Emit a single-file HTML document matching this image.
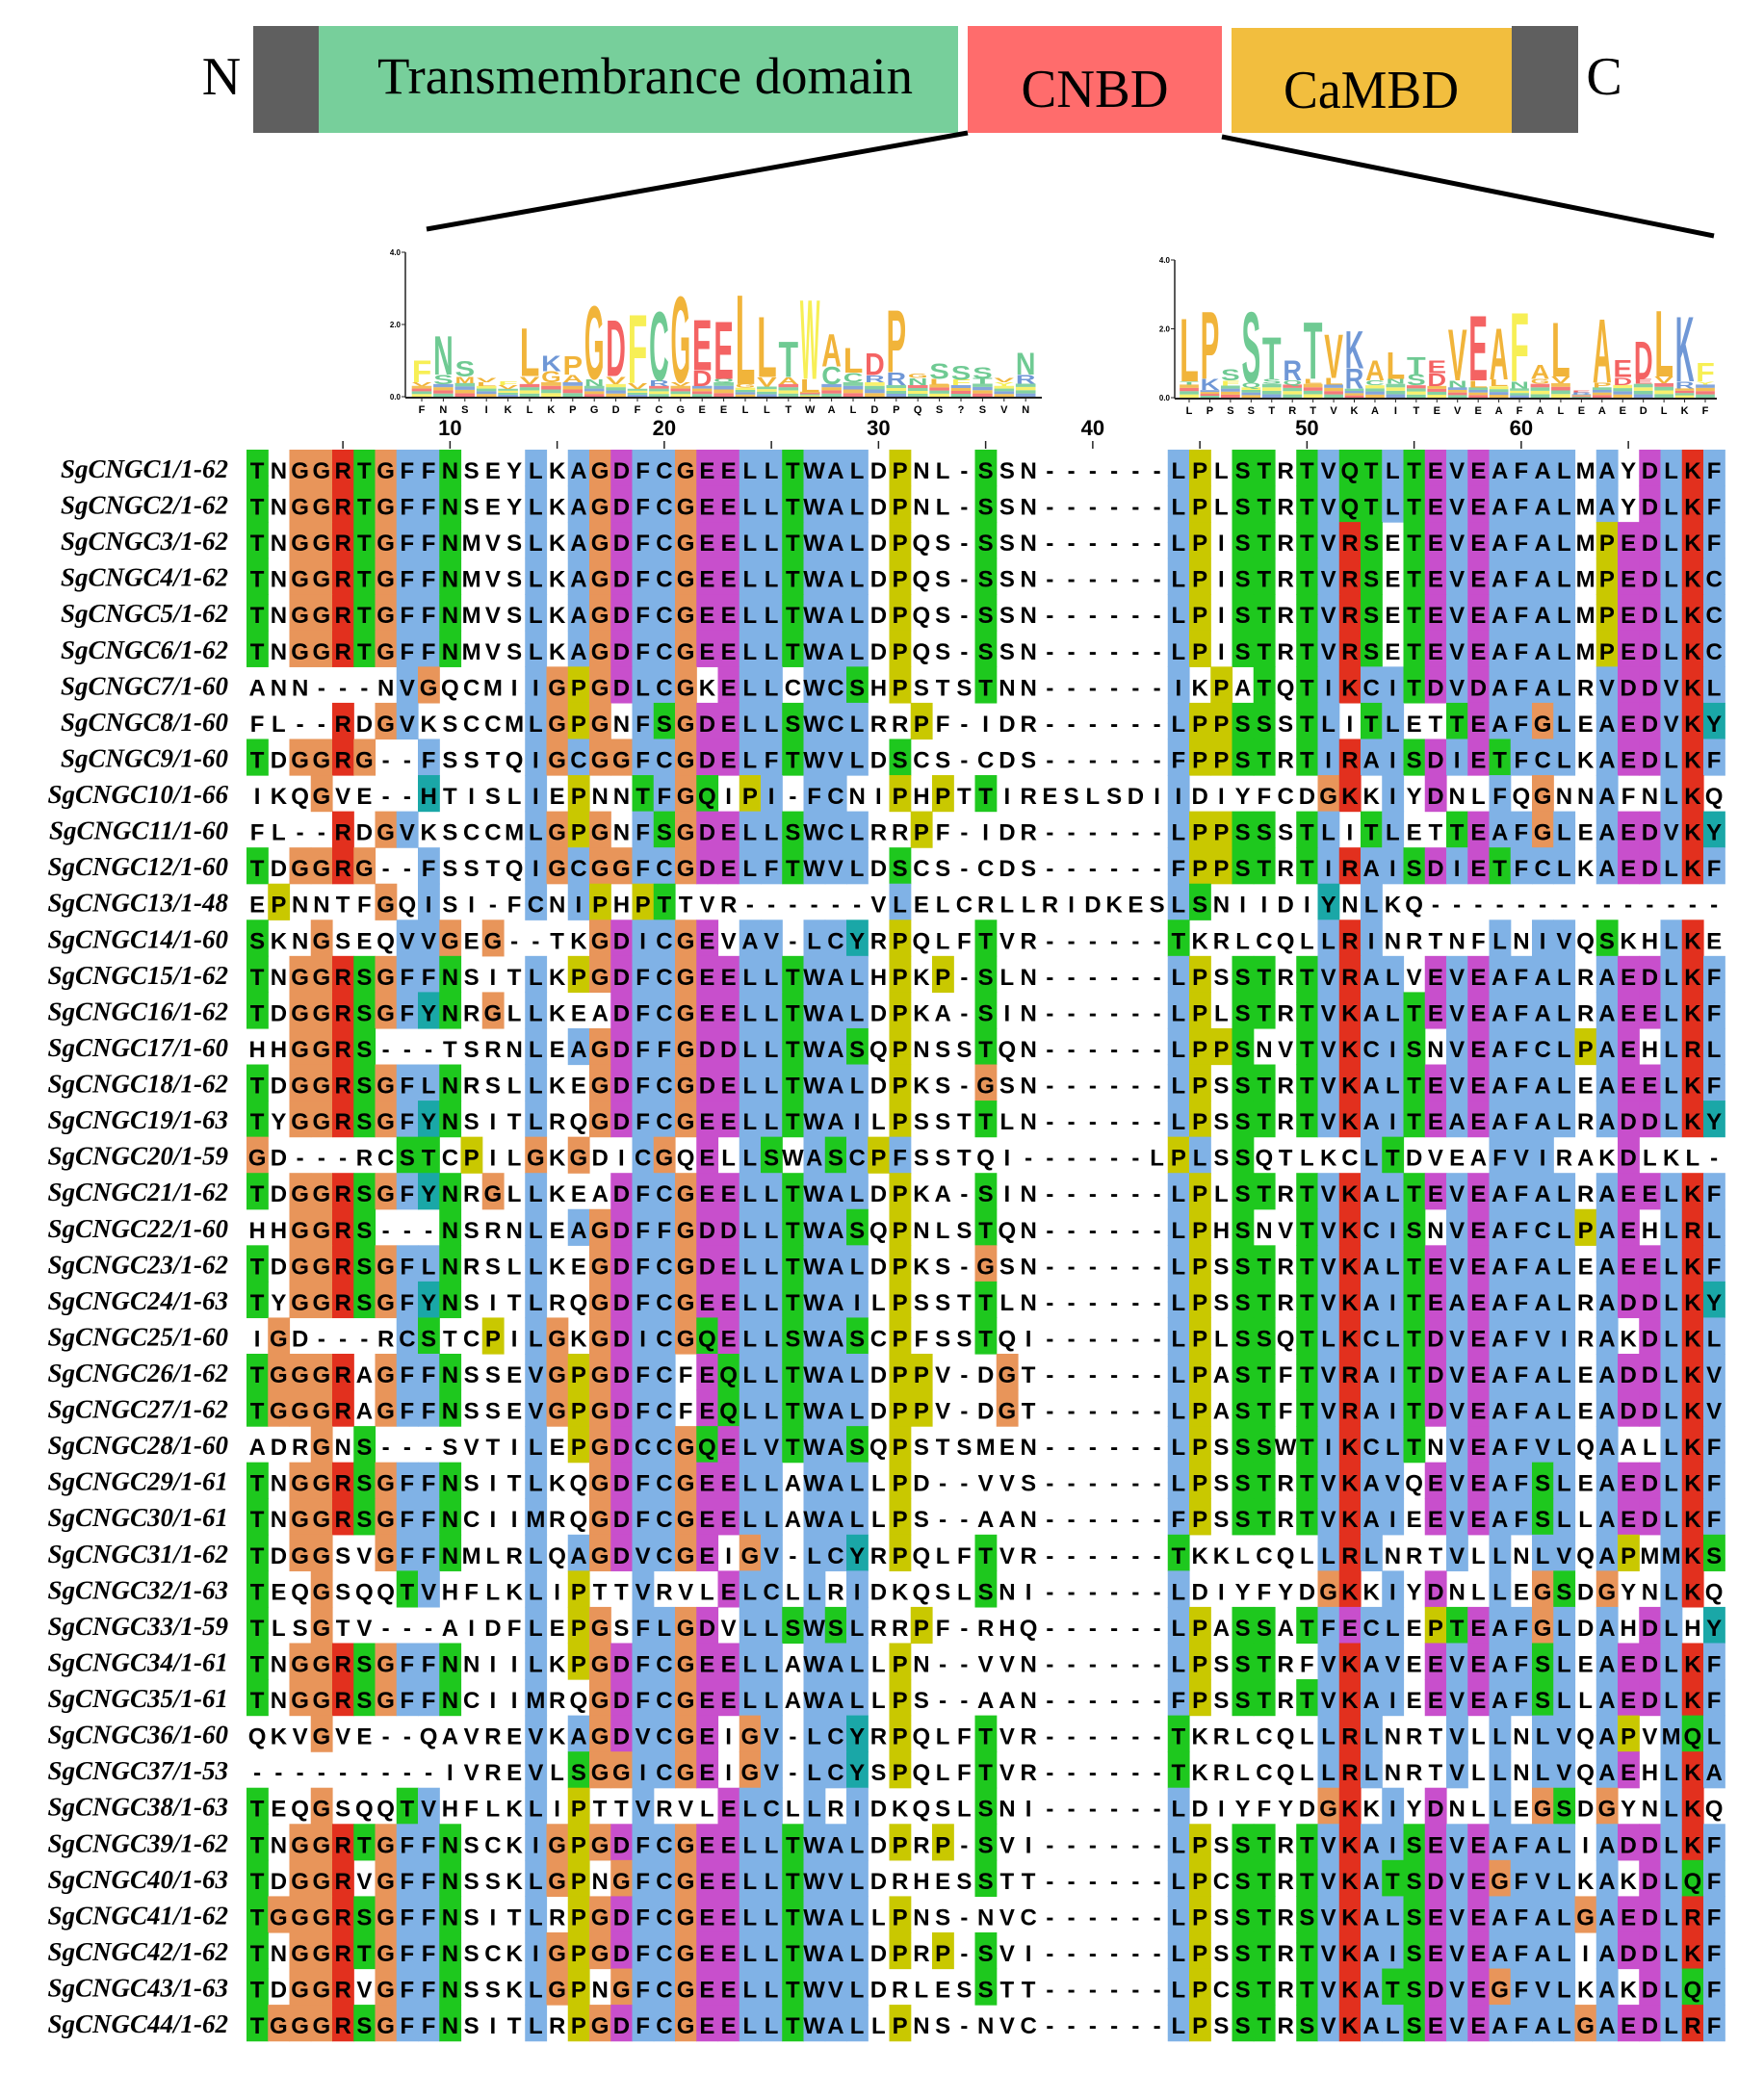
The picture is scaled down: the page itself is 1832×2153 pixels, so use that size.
<!DOCTYPE html>
<html><head><meta charset="utf-8"><style>
html,body{margin:0;padding:0;background:#fff}
svg{display:block}
</style></head><body>
<svg id="fig" xmlns="http://www.w3.org/2000/svg" width="1832" height="2153" viewBox="0 0 1832 2153">
<rect width="1832" height="2153" fill="#fff"/>
<g>
<text x="230" y="98" font-family="Liberation Serif, serif" font-size="56" text-anchor="middle">N</text>
<rect x="263" y="27" width="68" height="111" fill="#5f5f5f"/>
<rect x="331" y="27" width="664" height="111" fill="#77cf9b"/>
<text x="670" y="97" font-family="Liberation Serif, serif" font-size="54" text-anchor="middle" textLength="556" lengthAdjust="spacingAndGlyphs">Transmembrance domain</text>
<rect x="1005" y="27" width="264" height="111" fill="#ff6c6c"/>
<text x="1137" y="111" font-family="Liberation Serif, serif" font-size="56" text-anchor="middle" textLength="153" lengthAdjust="spacingAndGlyphs">CNBD</text>
<rect x="1279" y="29" width="291" height="109" fill="#f2be3e"/>
<text x="1424" y="112" font-family="Liberation Serif, serif" font-size="56" text-anchor="middle" textLength="182" lengthAdjust="spacingAndGlyphs">CaMBD</text>
<rect x="1570" y="27" width="69" height="111" fill="#5f5f5f"/>
<text x="1666" y="98" font-family="Liberation Serif, serif" font-size="56" text-anchor="middle">C</text>
<line x1="1005" y1="138" x2="443" y2="238" stroke="#000" stroke-width="5"/>
<line x1="1269" y1="142" x2="1780" y2="245" stroke="#000" stroke-width="5"/>
</g>
<g id="logos"></g>
<g id="aln"></g>
</svg>
<script>
// ---------- logo data ----------
const logo1Labels=['F','N','S','I','K','L','K','P','G','D','F','C','G','E','E','L','L','T','W','A','L','D','P','Q','S','?','S','V','N'];
const logo1Main=['F','N','S','V','F','L','K','P','G','D','F','C','G','E','E','L','L','T','W','A','L','D','P','G','S','S','S','V','N'];
const logo1MainBits=[.62,1.11,.44,.12,.1,1.38,.44,.53,2.09,1.6,1.96,1.96,2.46,1.45,1.64,2.56,1.72,1.02,2.27,.93,.71,.62,1.78,.12,.44,.4,.31,.12,.62];
const logo1Sec=['V','S','M','L','V','V','G','A','N','V','V','R','V','D','Q','G','V','A','L','C','C','R','R','N','L','F','T','Y','R'];
const logo1SecBits=[.1,.27,.18,.1,.1,.22,.31,.22,.2,.22,.15,.15,.1,.44,.1,.1,.27,.2,.35,.49,.27,.2,.36,.2,.15,.15,.15,.1,.25];
const logo1Rest=[.3,.35,.38,.3,.22,.35,.4,.4,.3,.35,.22,.3,.3,.3,.4,.25,.28,.35,.14,.35,.4,.4,.32,.32,.34,.32,.36,.3,.36];

const logo2Labels=['L','P','S','S','T','R','T','V','K','A','I','T','E','V','E','A','F','A','L','E','A','E','D','L','K','F'];
const logo2Main=['L','P','S','S','T','R','T','V','K','A','L','T','E','V','E','A','F','A','L','E','A','E','D','L','K','F'];
const logo2MainBits=[1.88,2.02,.33,2.12,1.26,.6,1.7,1.3,1.12,.6,.8,.51,.37,1.53,1.95,1.53,2.05,.42,1.63,.05,1.9,.51,1.12,1.98,1.95,.56];
const logo2Sec=['T','K','F','Q','S','Q','L','L','R','C','N','S','D','N','L','L','N','G','V','R','P','D','E','V','R','Y'];
const logo2SecBits=[.1,.33,.15,.15,.15,.12,.15,.2,.6,.15,.15,.33,.37,.2,.2,.2,.2,.15,.2,.05,.15,.23,.15,.2,.2,.1];
const logo2Rest=[.38,.22,.35,.3,.4,.38,.4,.38,.26,.36,.4,.36,.34,.3,.3,.33,.27,.4,.42,.1,.3,.37,.4,.42,.27,.38];

const NS='http://www.w3.org/2000/svg';
function mk(tag,attrs,parent){const e=document.createElementNS(NS,tag);for(const k in attrs)e.setAttribute(k,attrs[k]);if(parent)parent.appendChild(e);return e;}
function logoColor(c){
  if('AGILMPV'.includes(c))return '#f1b43a';
  if('FWY'.includes(c))return '#f7ef55';
  if('CNQST'.includes(c))return '#6fca93';
  if('KRH'.includes(c))return '#6f97d6';
  if('DE'.includes(c))return '#f46363';
  return '#aaa';
}
const stripeCols=['#f7ef55','#6fca93','#f46363','#f1b43a','#6f97d6','#6fca93'];
function drawLetter(g,ch,xl,w,yb,h){
  if(h<=0.5)return;
  const t=mk('text',{x:0,y:0,'font-family':'Liberation Sans, sans-serif','font-weight':'bold','font-size':100,textLength:100,lengthAdjust:'spacingAndGlyphs',fill:logoColor(ch),
    transform:`translate(${xl},${yb}) scale(${w/100},${h/72})`},g);
  t.textContent=ch;
}
function drawLogo(name,ax,y0,y4,x0,step,labels,main,mainBits,sec,secBits,rest,xEnd){
  const g=mk('g',{},document.getElementById('logos'));
  
  
  const pb=(y0-y4)/4;
  const yv=b=>y0-b*pb;
  const ya=mk('line',{x1:ax,y1:y4,x2:ax,y2:y0+1,stroke:'#222','stroke-width':1.5},g);
  
  const xa=mk('line',{x1:ax,y1:y0+1,x2:xEnd,y2:y0+1,stroke:'#222','stroke-width':2},g);
  
  [0,2,4].forEach(b=>{
    mk('line',{x1:ax-4,y1:yv(b),x2:ax,y2:yv(b),stroke:'#222','stroke-width':1},g);
    const t=mk('text',{x:ax-5,y:yv(b)+3,'font-family':'Liberation Sans, sans-serif','font-size':8,'font-weight':'bold','text-anchor':'end'},g);
    t.textContent=b.toFixed(1);
    
  });
  const w=step*0.92;
  labels.forEach((lab,i)=>{
    const cx=x0+i*step, xl=cx-w/2;
    let y=y0;
    const r=rest[i]*pb; const n=4;
    for(let k=0;k<n;k++){
      const s=mk('rect',{x:xl,y:y-r*(k+1)/n,width:w,height:r/n,fill:stripeCols[(i+k)%stripeCols.length],opacity:0.85},g);
      
    }
    y-=r;
    const sh=secBits[i]*pb; drawLetter(g,sec[i],xl,w,y,sh); y-=sh;
    const mh=mainBits[i]*pb; drawLetter(g,main[i],xl,w,y,mh);
    mk('line',{x1:cx,y1:y0+1,x2:cx,y2:y0+5,stroke:'#222','stroke-width':1},g);
    const t=mk('text',{x:cx,y:y0+17,'font-family':'Liberation Sans, sans-serif','font-size':11,'font-weight':'bold','text-anchor':'middle'},g);
    t.textContent=lab;
    
  });
}
drawLogo('cnbd-logo-left',421,412,262,438,22.4,logo1Labels,logo1Main,logo1MainBits,logo1Sec,logo1SecBits,logo1Rest,1082);
drawLogo('cnbd-logo-right',1220,413,270,1235,21.44,logo2Labels,logo2Main,logo2MainBits,logo2Sec,logo2SecBits,logo2Rest,1783);

// ---------- alignment data ----------
const names=['SgCNGC1/1-62','SgCNGC2/1-62','SgCNGC3/1-62','SgCNGC4/1-62','SgCNGC5/1-62','SgCNGC6/1-62','SgCNGC7/1-60','SgCNGC8/1-60','SgCNGC9/1-60','SgCNGC10/1-66','SgCNGC11/1-60','SgCNGC12/1-60','SgCNGC13/1-48','SgCNGC14/1-60','SgCNGC15/1-62','SgCNGC16/1-62','SgCNGC17/1-60','SgCNGC18/1-62','SgCNGC19/1-63','SgCNGC20/1-59','SgCNGC21/1-62','SgCNGC22/1-60','SgCNGC23/1-62','SgCNGC24/1-63','SgCNGC25/1-60','SgCNGC26/1-62','SgCNGC27/1-62','SgCNGC28/1-60','SgCNGC29/1-61','SgCNGC30/1-61','SgCNGC31/1-62','SgCNGC32/1-63','SgCNGC33/1-59','SgCNGC34/1-61','SgCNGC35/1-61','SgCNGC36/1-60','SgCNGC37/1-53','SgCNGC38/1-63','SgCNGC39/1-62','SgCNGC40/1-63','SgCNGC41/1-62','SgCNGC42/1-62','SgCNGC43/1-63','SgCNGC44/1-62'];
const seqs=[
'TNGGRTGFFNSEYLKAGDFCGEELLTWALDPNL-SSN------LPLSTRTVQTLTEVEAFALMAYDLKF',
'TNGGRTGFFNSEYLKAGDFCGEELLTWALDPNL-SSN------LPLSTRTVQTLTEVEAFALMAYDLKF',
'TNGGRTGFFNMVSLKAGDFCGEELLTWALDPQS-SSN------LPISTRTVRSETEVEAFALMPEDLKF',
'TNGGRTGFFNMVSLKAGDFCGEELLTWALDPQS-SSN------LPISTRTVRSETEVEAFALMPEDLKC',
'TNGGRTGFFNMVSLKAGDFCGEELLTWALDPQS-SSN------LPISTRTVRSETEVEAFALMPEDLKC',
'TNGGRTGFFNMVSLKAGDFCGEELLTWALDPQS-SSN------LPISTRTVRSETEVEAFALMPEDLKC',
'ANN---NVGQCMIIGPGDLCGKELLCWCSHPSTSTNN------IKPATQTIKCITDVDAFALRVDDVKL',
'FL--RDGVKSCCMLGPGNFSGDELLSWCLRRPF-IDR------LPPSSSTLITLETTEAFGLEAEDVKY',
'TDGGRG--FSSTQIGCGGFCGDELFTWVLDSCS-CDS------FPPSTRTIRAISDIETFCLKAEDLKF',
'IKQGVE--HTISLIEPNNTFGQIPI-FCNIPHPTTIRESLSDIIDIYFCDGKKIYDNLFQGNNAFNLKQ',
'FL--RDGVKSCCMLGPGNFSGDELLSWCLRRPF-IDR------LPPSSSTLITLETTEAFGLEAEDVKY',
'TDGGRG--FSSTQIGCGGFCGDELFTWVLDSCS-CDS------FPPSTRTIRAISDIETFCLKAEDLKF',
'EPNNTFGQISI-FCNIPHPTTVR------VLELCRLLRIDKESLSNIIDIYNLKQ--------------',
'SKNGSEQVVGEG--TKGDICGEVAV-LCYRPQLFTVR------TKRLCQLLRINRTNFLNIVQSKHLKE',
'TNGGRSGFFNSITLKPGDFCGEELLTWALHPKP-SLN------LPSSTRTVRALVEVEAFALRAEDLKF',
'TDGGRSGFYNRGLLKEADFCGEELLTWALDPKA-SIN------LPLSTRTVKALTEVEAFALRAEELKF',
'HHGGRS---TSRNLEAGDFFGDDLLTWASQPNSSTQN------LPPSNVTVKCISNVEAFCLPAEHLRL',
'TDGGRSGFLNRSLLKEGDFCGDELLTWALDPKS-GSN------LPSSTRTVKALTEVEAFALEAEELKF',
'TYGGRSGFYNSITLRQGDFCGEELLTWAILPSSTTLN------LPSSTRTVKAITEAEAFALRADDLKY',
'GD---RCSTCPILGKGDICGQELLSWASCPFSSTQI------LPLSSQTLKCLTDVEAFVIRAKDLKL-',
'TDGGRSGFYNRGLLKEADFCGEELLTWALDPKA-SIN------LPLSTRTVKALTEVEAFALRAEELKF',
'HHGGRS---NSRNLEAGDFFGDDLLTWASQPNLSTQN------LPHSNVTVKCISNVEAFCLPAEHLRL',
'TDGGRSGFLNRSLLKEGDFCGDELLTWALDPKS-GSN------LPSSTRTVKALTEVEAFALEAEELKF',
'TYGGRSGFYNSITLRQGDFCGEELLTWAILPSSTTLN------LPSSTRTVKAITEAEAFALRADDLKY',
'IGD---RCSTCPILGKGDICGQELLSWASCPFSSTQI------LPLSSQTLKCLTDVEAFVIRAKDLKL',
'TGGGRAGFFNSSEVGPGDFCFEQLLTWALDPPV-DGT------LPASTFTVRAITDVEAFALEADDLKV',
'TGGGRAGFFNSSEVGPGDFCFEQLLTWALDPPV-DGT------LPASTFTVRAITDVEAFALEADDLKV',
'ADRGNS---SVTILEPGDCCGQELVTWASQPSTSMEN------LPSSSWTIKCLTNVEAFVLQAALLKF',
'TNGGRSGFFNSITLKQGDFCGEELLAWALLPD--VVS------LPSSTRTVKAVQEVEAFSLEAEDLKF',
'TNGGRSGFFNCIIMRQGDFCGEELLAWALLPS--AAN------FPSSTRTVKAIEEVEAFSLLAEDLKF',
'TDGGSVGFFNMLRLQAGDVCGEIGV-LCYRPQLFTVR------TKKLCQLLRLNRTVLLNLVQAPMMKS',
'TEQGSQQTVHFLKLIPTTVRVLELCLLRIDKQSLSNI------LDIYFYDGKKIYDNLLEGSDGYNLKQ',
'TLSGTV---AIDFLEPGSFLGDVLLSWSLRRPF-RHQ------LPASSATFECLEPTEAFGLDAHDLHY',
'TNGGRSGFFNNIILKPGDFCGEELLAWALLPN--VVN------LPSSTRFVKAVEEVEAFSLEAEDLKF',
'TNGGRSGFFNCIIMRQGDFCGEELLAWALLPS--AAN------FPSSTRTVKAIEEVEAFSLLAEDLKF',
'QKVGVE--QAVREVKAGDVCGEIGV-LCYRPQLFTVR------TKRLCQLLRLNRTVLLNLVQAPVMQL',
'---------IVREVLSGGICGEIGV-LCYSPQLFTVR------TKRLCQLLRLNRTVLLNLVQAEHLKA',
'TEQGSQQTVHFLKLIPTTVRVLELCLLRIDKQSLSNI------LDIYFYDGKKIYDNLLEGSDGYNLKQ',
'TNGGRTGFFNSCKIGPGDFCGEELLTWALDPRP-SVI------LPSSTRTVKAISEVEAFALIADDLKF',
'TDGGRVGFFNSSKLGPNGFCGEELLTWVLDRHESSTT------LPCSTRTVKATSDVEGFVLKAKDLQF',
'TGGGRSGFFNSITLRPGDFCGEELLTWALLPNS-NVC------LPSSTRSVKALSEVEAFALGAEDLRF',
'TNGGRTGFFNSCKIGPGDFCGEELLTWALDPRP-SVI------LPSSTRTVKAISEVEAFALIADDLKF',
'TDGGRVGFFNSSKLGPNGFCGEELLTWVLDRLESSTT------LPCSTRTVKATSDVEGFVLKAKDLQF',
'TGGGRSGFFNSITLRPGDFCGEELLTWALLPNS-NVC------LPSSTRSVKALSEVEAFALGAEDLRF'];
const tickPositions=[5,10,15,20,25,30,35,40,45,50,55,60,65];
const tickLabels=[10,20,30,40,50,60];

const NCOL=69, X0=256, CW=22.25, Y0=467, RH=37.56;
const S=seqs.map(s=>(s+'-'.repeat(NCOL)).slice(0,NCOL));
const N=S.length;
const colX=c=>X0+(c-1)*CW;
const rowY=r=>Y0+r*RH;
function pct(col,set){let n=0;for(const s of S)if(set.includes(s[col]))n++;return n/N*100;}
const C={blue:'#80b2e6',red:'#e2301e',green:'#1ec81e',pink:'#f08080',mag:'#c84fcc',orange:'#e8955a',yellow:'#c9c800',cyan:'#1aa7a7'};
function clustal(ch,j){
  const h=pct(j,'WLVIMAFCHP'),kr=pct(j,'KR'),qe=pct(j,'QE'),ed=pct(j,'ED'),st=pct(j,'ST');
  const p=x=>pct(j,x);
  switch(ch){
    case 'W':case 'L':case 'V':case 'I':case 'M':case 'F':case 'A': return h>60?C.blue:null;
    case 'C': if(p('C')>85)return C.pink; return h>60?C.blue:null;
    case 'K':case 'R': return (kr>60||p('K')>80||p('R')>85||p('Q')>85)?C.red:null;
    case 'E': return (kr>60||qe>50||ed>50||p('E')>85)?C.mag:null;
    case 'D': return (kr>60||ed>50||p('D')>85)?C.mag:null;
    case 'N': return (p('N')>50||p('D')>85)?C.green:null;
    case 'Q': return (kr>60||qe>50||p('Q')>85)?C.green:null;
    case 'S':case 'T': return (h>60||st>50||p('S')>80||p('T')>85)?C.green:null;
    case 'H':case 'Y': return (h>60||p('WYACPQFHILMV')>85)?C.cyan:null;
    case 'G': return C.orange;
    case 'P': return C.yellow;
  }
  return null;
}
const aln=document.getElementById('aln');
const ruler=mk('g',{},aln);


tickPositions.forEach(t=>{
  const x=colX(t)+CW/2;
  const l=mk('line',{x1:x,y1:458,x2:x,y2:466,stroke:'#222','stroke-width':1.5},ruler);
  
  
});
tickLabels.forEach(t=>{
  const x=colX(t)+CW/2;
  const tx=mk('text',{x:x,y:452,'font-family':'Liberation Sans, sans-serif','font-weight':'bold','font-size':22,'text-anchor':'middle'},ruler);
  tx.textContent=t;
  
  
});
const bg=mk('g',{},aln);


const tg=mk('g',{'font-family':'Liberation Sans, sans-serif','font-weight':'bold','font-size':24,'text-anchor':'middle'},aln);


S.forEach((s,r)=>{
  const y=rowY(r);
  const lab=mk('text',{x:237,y:y+29,'font-family':'Liberation Serif, serif','font-style':'italic','font-weight':'bold','font-size':27,'text-anchor':'end'},aln);
  lab.textContent=names[r];
  
  
  for(let j=0;j<NCOL;j++){
    const ch=s[j];
    const col=clustal(ch,j);
    if(col){
      const rc=mk('rect',{x:colX(j+1),y:y,width:CW+0.6,height:RH+0.6,fill:col},bg);
      
      
    }
    const t=mk('text',{x:colX(j+1)+CW/2,y:y+30},tg);
    t.textContent=ch;
  }
});
</script>
</body></html>
